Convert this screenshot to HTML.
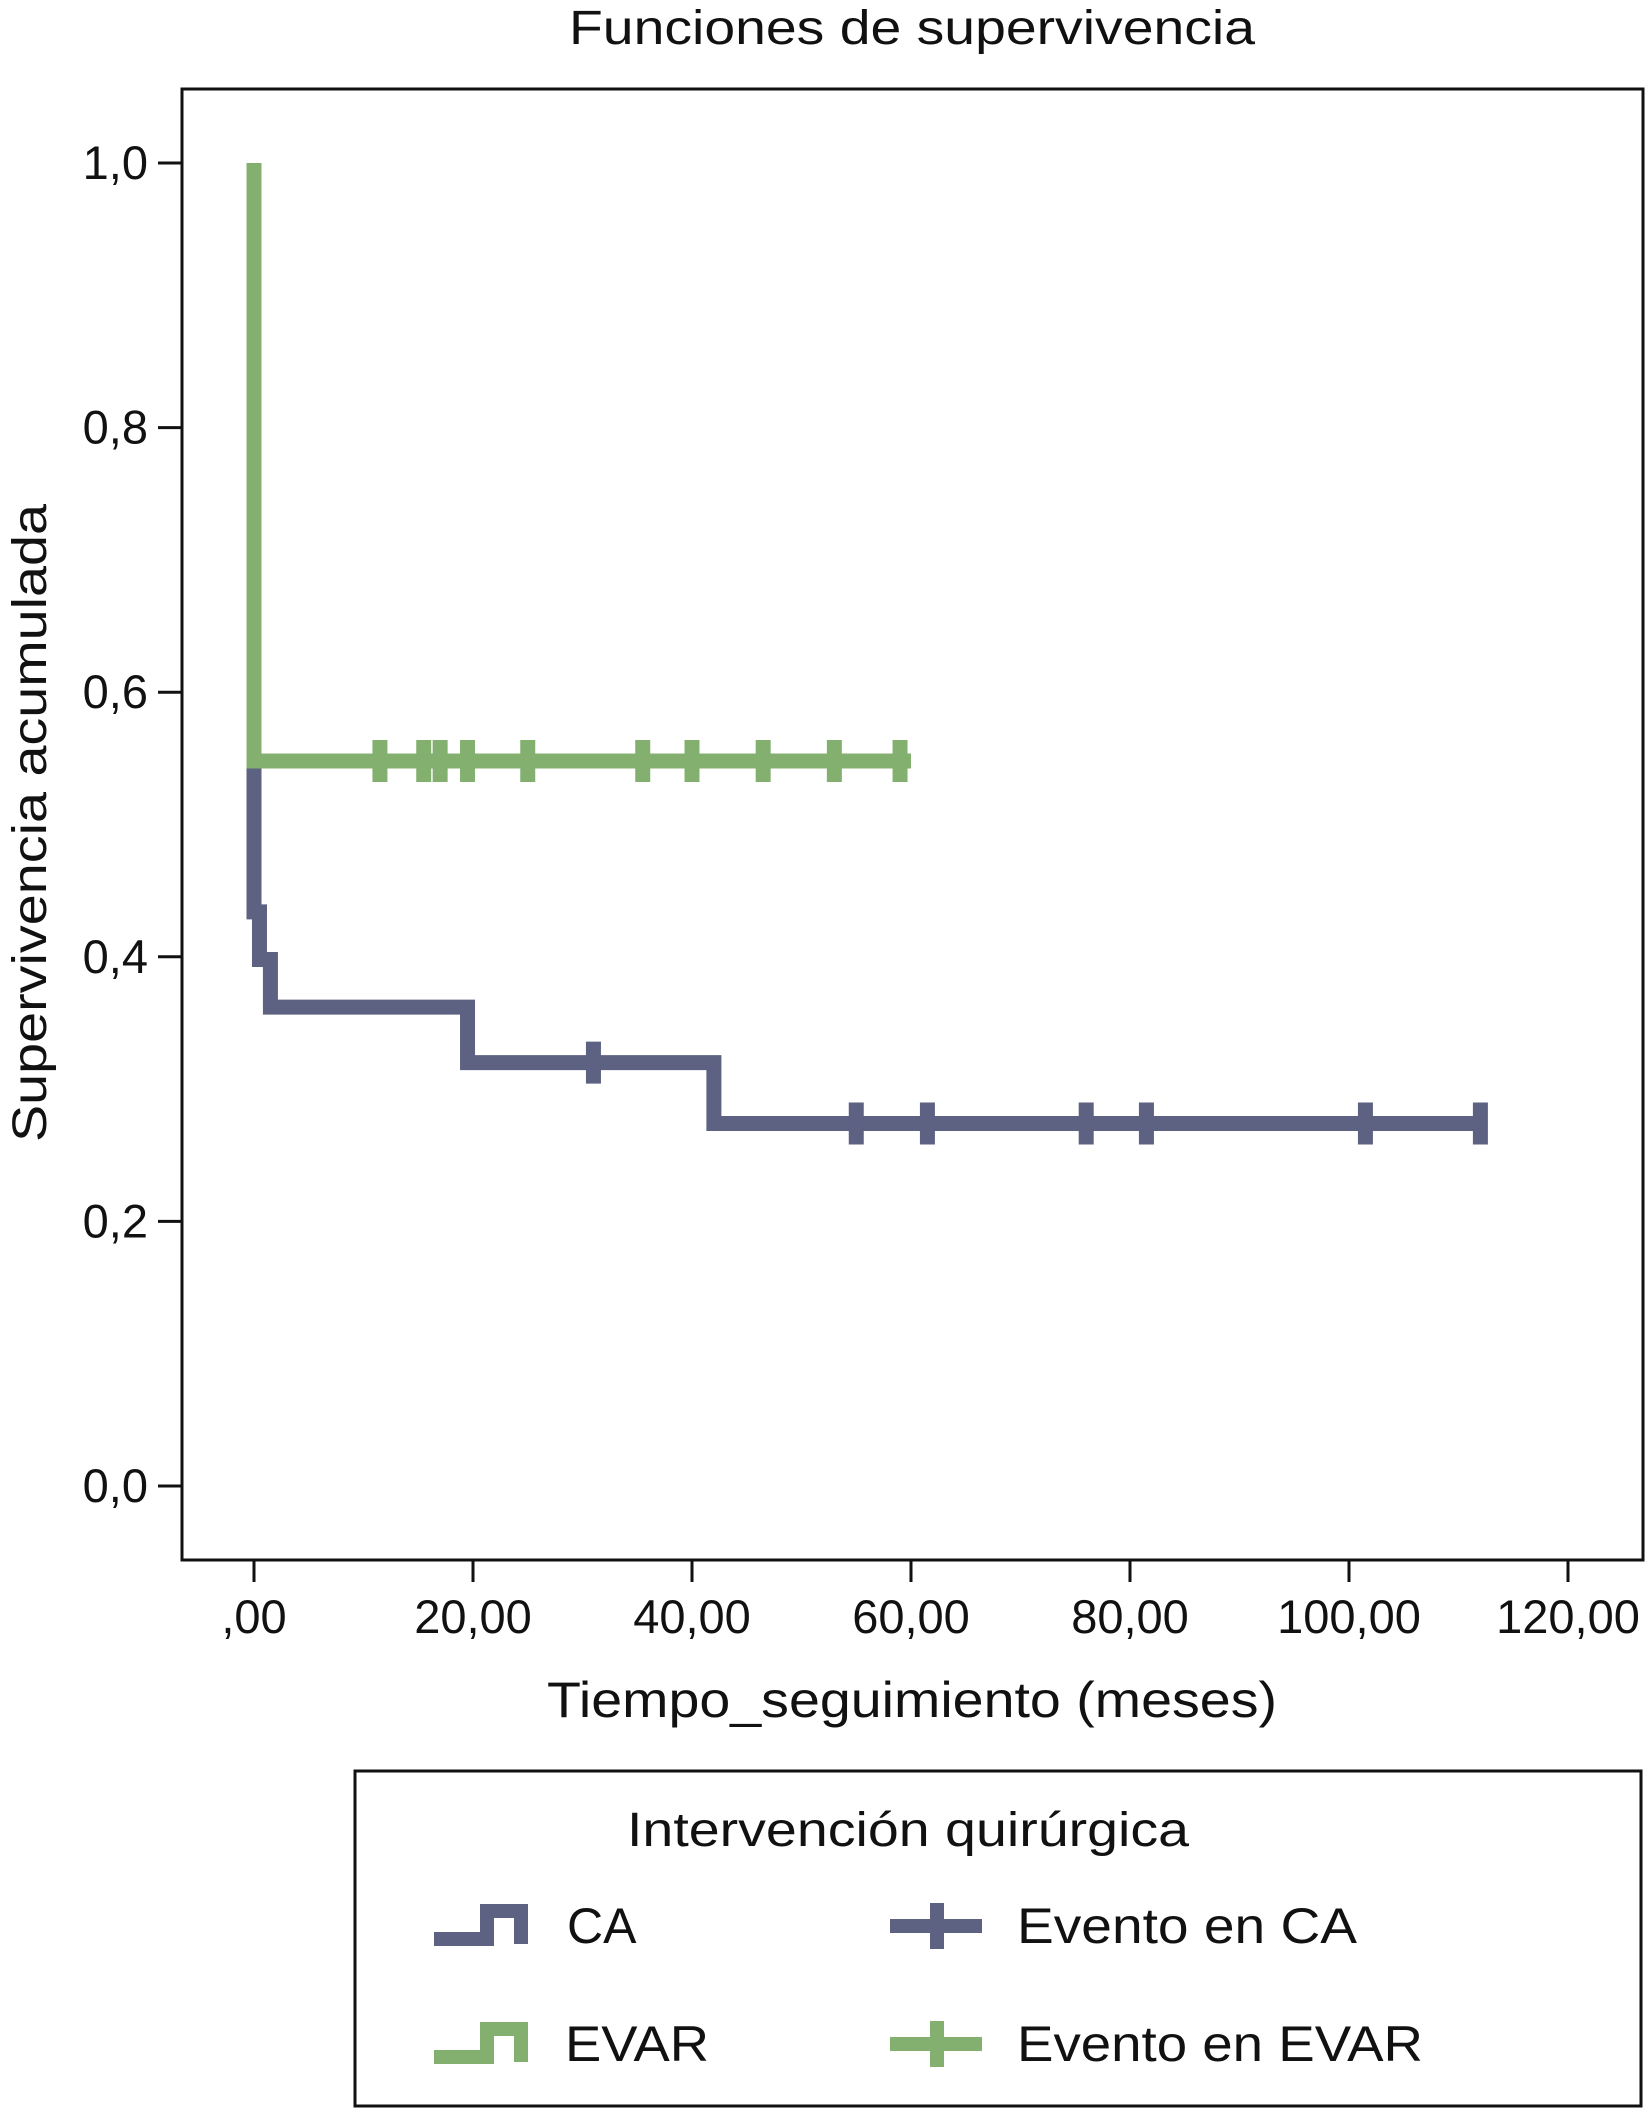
<!DOCTYPE html>
<html><head><meta charset="utf-8"><style>
html,body{margin:0;padding:0;background:#fff}
svg{display:block}
text{font-family:"Liberation Sans",Arial,sans-serif;fill:#111}
</style></head><body>
<svg id="chart" width="1646" height="2108" viewBox="0 0 1646 2108" xmlns="http://www.w3.org/2000/svg">
<text x="912" y="44" font-size="48" text-anchor="middle" textLength="686" lengthAdjust="spacingAndGlyphs">Funciones de supervivencia</text>
<rect x="182" y="89" width="1461" height="1471" fill="none" stroke="#111" stroke-width="3"/>
<g id="yaxis"></g>
<g id="xaxis"></g>
<g id="series"></g>
<text transform="translate(46,823) rotate(-90)" font-size="48" text-anchor="middle" textLength="638" lengthAdjust="spacingAndGlyphs">Supervivencia acumulada</text>
<text x="912" y="1717" font-size="50" text-anchor="middle" textLength="730" lengthAdjust="spacingAndGlyphs">Tiempo_seguimiento (meses)</text>
<g>
<rect x="355" y="1771" width="1286" height="335" fill="none" stroke="#111" stroke-width="3"/>
<text x="908" y="1846" font-size="48" text-anchor="middle" textLength="562" lengthAdjust="spacingAndGlyphs">Intervención quirúrgica</text>
<path d="M434,1939 H487 V1911 H521 V1944" fill="none" stroke="#5d6182" stroke-width="14"/>
<text x="567" y="1943" font-size="50">CA</text>
<path d="M890,1926 H982 M937,1903 V1949" fill="none" stroke="#5d6182" stroke-width="14"/>
<text x="1017" y="1943" font-size="50" textLength="340" lengthAdjust="spacingAndGlyphs">Evento en CA</text>
<path d="M434,2057 H487 V2029 H521 V2062" fill="none" stroke="#84b06f" stroke-width="14"/>
<text x="565" y="2061" font-size="50" textLength="144" lengthAdjust="spacingAndGlyphs">EVAR</text>
<path d="M890,2044 H982 M937,2021 V2067" fill="none" stroke="#84b06f" stroke-width="14"/>
<text x="1017" y="2061" font-size="50" textLength="406" lengthAdjust="spacingAndGlyphs">Evento en EVAR</text>
</g>
</svg>
<script>
const yTicks = [0, 0.2, 0.4, 0.6, 0.8, 1.0];
const yTickLabels = ["0,0", "0,2", "0,4", "0,6", "0,8", "1,0"];
const xTicks = [0, 20, 40, 60, 80, 100, 120];
const xTickLabels = [",00", "20,00", "40,00", "60,00", "80,00", "100,00", "120,00"];
const caTimes = [0, 0, 0.5, 1.5, 19.5, 42, 112.5];
const caSurv = [1.0, 0.434, 0.398, 0.362, 0.32, 0.274, 0.274];
const caCensor = [31, 55, 61.5, 76, 81.5, 101.5, 112];
const evarTimes = [0, 0, 60];
const evarSurv = [1.0, 0.548, 0.548];
const evarCensor = [11.5, 15.5, 17, 19.5, 25, 35.5, 40, 46.5, 53, 59];

const NS = "http://www.w3.org/2000/svg";
function x(t){ return 254 + t * 10.95; }
function y(v){ return 1486 - v * 1323; }
function mk(tag, attrs, parent){
  const e = document.createElementNS(NS, tag);
  for (const k in attrs) e.setAttribute(k, attrs[k]);
  parent.appendChild(e); return e;
}
const ya = document.getElementById('yaxis');
yTicks.forEach((v, i) => {
  const l = mk('line', {x1:158, x2:182, y1:y(v), y2:y(v), stroke:'#111', 'stroke-width':3}, ya);
  
  
  const t = mk('text', {x:148, y:y(v)+16, 'font-size':47, 'text-anchor':'end'}, ya);
  t.textContent = yTickLabels[i];
  
  
});
const xa = document.getElementById('xaxis');
xTicks.forEach((v, i) => {
  const l = mk('line', {x1:x(v), x2:x(v), y1:1560, y2:1582, stroke:'#111', 'stroke-width':3}, xa);
  
  
  const t = mk('text', {x:x(v), y:1633, 'font-size':47, 'text-anchor':'middle'}, xa);
  t.textContent = xTickLabels[i];
  
  
});
const sg = document.getElementById('series');
function stepPath(ts, vs){
  let d = 'M' + x(ts[0]) + ',' + y(vs[0]);
  for (let i = 1; i < ts.length; i++){
    d += ' H' + x(ts[i]) + ' V' + y(vs[i]);
  }
  return d;
}
function survAt(ts, vs, t){
  let v = vs[0];
  for (let i = 0; i < ts.length; i++) if (ts[i] <= t) v = vs[i];
  return v;
}
function drawSeries(ts, vs, cens, color, name){
  const p = mk('path', {d:stepPath(ts, vs), fill:'none', stroke:color, 'stroke-width':15, 'stroke-linejoin':'miter'}, sg);
  
  
  cens.forEach(c => {
    const v = survAt(ts, vs, c);
    const m = mk('line', {x1:x(c), x2:x(c), y1:y(v)-21, y2:y(v)+21, stroke:color, 'stroke-width':15}, sg);
    
    
  });
}
drawSeries(caTimes, caSurv, caCensor, '#5d6182', 'ca');
drawSeries(evarTimes, evarSurv, evarCensor, '#84b06f', 'evar');
</script>
</body></html>
